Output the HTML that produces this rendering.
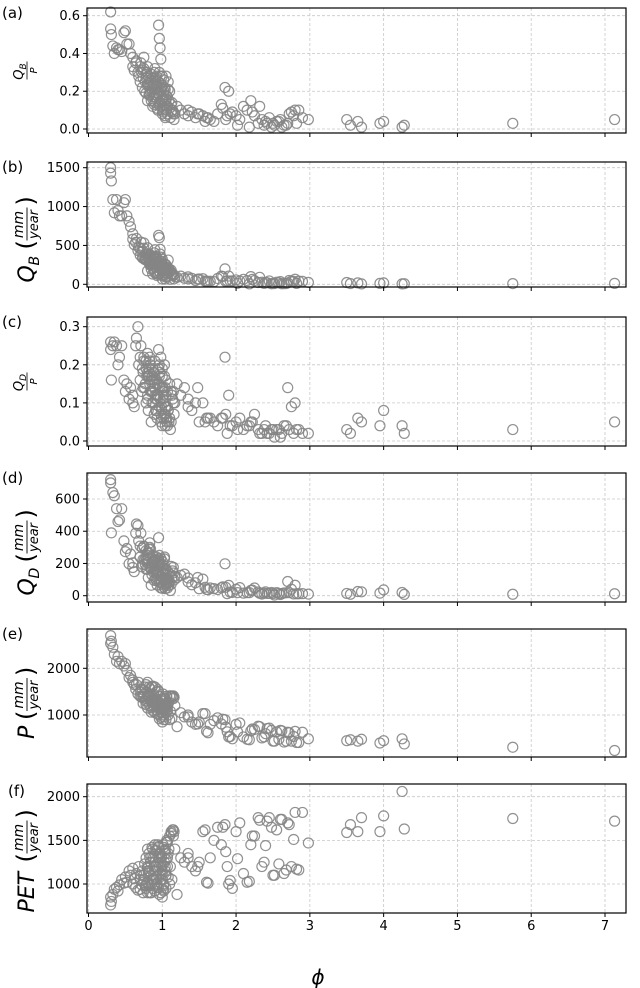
<!DOCTYPE html>
<html><head><meta charset="utf-8"><style>
html,body{margin:0;padding:0;background:#fff}
svg{display:block;font-family:"DejaVu Sans","Liberation Sans",sans-serif}
</style></head><body>
<svg id="chart" width="640" height="988" viewBox="0 0 640 988" xmlns="http://www.w3.org/2000/svg"></svg>
<script>
const phi=[0.30,0.30,0.31,0.33,0.35,0.38,0.40,0.42,0.45,0.48,
0.50,0.52,0.55,0.57,0.60,0.60,0.62,0.64,0.65,0.67,
0.68,0.70,0.70,0.72,0.73,0.74,0.75,0.76,0.77,0.78,
0.79,0.80,0.80,0.81,0.82,0.83,0.84,0.85,0.86,0.87,
0.88,0.88,0.89,0.90,0.90,0.91,0.92,0.93,0.94,0.95,
0.95,0.96,0.97,0.98,0.98,0.99,1.00,1.00,1.01,1.02,
1.03,1.04,1.05,1.05,1.06,1.07,1.08,1.10,1.12,1.14,
1.15,1.17,1.20,1.25,1.30,1.35,1.40,1.45,1.50,1.55,
1.60,1.65,1.70,1.75,1.80,1.85,1.88,1.90,1.95,2.00,
2.05,2.10,2.15,2.20,2.25,2.30,2.35,2.40,2.45,2.50,
2.55,2.60,2.65,2.70,2.72,2.75,2.80,2.85,2.90,2.98,
3.50,3.55,3.65,3.70,3.95,4.00,4.25,4.28,5.75,7.13,
0.71,0.74,0.78,0.80,0.83,0.85,0.87,0.89,0.91,0.93,
0.94,0.96,0.97,0.99,1.00,1.01,1.02,1.03,1.04,1.05,
1.06,1.07,1.08,1.09,1.10,1.11,1.12,1.13,1.15,1.16,
0.75,0.82,0.86,0.90,0.92,0.95,0.97,1.00,1.02,1.04,
1.58,1.62,1.82,1.86,1.92,2.02,2.18,2.22,2.32,2.38,
2.42,2.48,2.52,2.58,2.62,2.68,2.78,2.82,1.35,1.48,
0.78,0.81,0.84,0.87,0.90,0.93,0.96,0.99,1.02,1.05,
0.80,0.83,0.86,0.89,0.92,0.95,0.98,1.01,1.04,1.07];
const qbRatio=[0.62,0.53,0.50,0.44,0.40,0.43,0.42,0.42,0.41,0.51,
0.52,0.45,0.45,0.40,0.33,0.38,0.31,0.35,0.36,0.30,
0.28,0.33,0.25,0.30,0.22,0.27,0.32,0.20,0.25,0.19,
0.30,0.23,0.15,0.28,0.18,0.22,0.26,0.15,0.20,0.12,
0.24,0.17,0.30,0.21,0.14,0.26,0.18,0.22,0.10,0.25,
0.55,0.48,0.43,0.37,0.20,0.15,0.08,0.28,0.12,0.18,
0.22,0.07,0.14,0.28,0.10,0.17,0.25,0.20,0.13,0.10,
0.09,0.08,0.12,0.10,0.08,0.07,0.09,0.06,0.08,0.07,
0.06,0.05,0.04,0.08,0.13,0.22,0.07,0.20,0.09,0.07,
0.05,0.12,0.10,0.15,0.07,0.03,0.05,0.04,0.06,0.03,
0.04,0.05,0.02,0.03,0.08,0.09,0.10,0.10,0.06,0.05,
0.05,0.02,0.04,0.01,0.03,0.04,0.01,0.02,0.03,0.05,
0.35,0.31,0.27,0.24,0.19,0.29,0.16,0.23,0.27,0.11,
0.19,0.30,0.12,0.22,0.16,0.09,0.20,0.13,0.06,0.18,
0.12,0.08,0.21,0.15,0.11,0.06,0.09,0.14,0.08,0.05,
0.38,0.27,0.21,0.32,0.24,0.13,0.28,0.23,0.26,0.15,
0.04,0.06,0.11,0.05,0.08,0.02,0.01,0.09,0.12,0.02,
0.03,0.01,0.02,0.04,0.01,0.02,0.07,0.03,0.10,0.08,
0.29,0.24,0.20,0.27,0.17,0.23,0.14,0.21,0.11,0.16,
0.33,0.18,0.25,0.13,0.28,0.19,0.24,0.10,0.21,0.12];
const qbFlow=[1500,1430,1330,1090,920,1090,950,880,880,1050,
1090,880,810,740,580,650,510,540,590,435,
476,462,375,414,341,338,464,320,325,313,
390,299,173,392,288,264,377,195,320,132,
348,204,405,336,147,325,270,242,130,288,
630,600,450,350,210,195,68,322,174,180,
264,95,147,252,140,187,312,180,182,140,
122,96,90,105,77,70,77,48,68,72,
39,40,35,75,105,198,45,106,44,56,
42,64,48,99,48,23,26,24,43,13,
26,34,8,19,50,40,65,41,38,25,
23,9,18,5,12,18,5,8,9,12,
543,428,329,355,296,307,259,271,356,113,
293,276,138,293,168,109,192,174,67,220,
168,97,210,192,155,65,127,130,113,69,
532,378,244,445,281,131,389,258,234,173,
41,37,100,37,43,13,5,63,90,11,
21,7,9,19,7,9,38,12,96,65,
390,330,260,350,220,280,170,250,130,190,
470,250,330,170,360,230,300,120,250,140];
const qdRatio=[0.26,0.24,0.16,0.25,0.26,0.25,0.20,0.22,0.25,0.16,
0.13,0.15,0.11,0.14,0.10,0.12,0.09,0.25,0.27,0.30,
0.20,0.22,0.16,0.13,0.19,0.18,0.21,0.14,0.15,0.10,
0.17,0.12,0.23,0.08,0.18,0.15,0.20,0.05,0.13,0.16,
0.10,0.18,0.07,0.14,0.21,0.11,0.16,0.06,0.12,0.19,
0.24,0.20,0.14,0.05,0.22,0.09,0.17,0.04,0.13,0.10,
0.20,0.07,0.16,0.12,0.05,0.09,0.08,0.15,0.13,0.11,
0.13,0.10,0.15,0.12,0.14,0.11,0.08,0.10,0.05,0.10,
0.06,0.06,0.05,0.04,0.06,0.22,0.02,0.12,0.04,0.05,
0.06,0.03,0.04,0.05,0.07,0.03,0.02,0.04,0.02,0.03,
0.03,0.01,0.04,0.14,0.03,0.09,0.10,0.03,0.02,0.02,
0.03,0.02,0.06,0.05,0.04,0.08,0.04,0.02,0.03,0.05,
0.25,0.14,0.19,0.11,0.21,0.16,0.13,0.18,0.08,0.15,
0.12,0.09,0.18,0.06,0.14,0.11,0.07,0.17,0.04,0.09,
0.06,0.04,0.08,0.05,0.06,0.03,0.05,0.12,0.10,0.07,
0.22,0.19,0.17,0.12,0.08,0.15,0.11,0.19,0.06,0.14,
0.05,0.06,0.06,0.07,0.04,0.03,0.04,0.05,0.02,0.03,
0.02,0.03,0.01,0.03,0.02,0.04,0.02,0.03,0.09,0.14,
0.21,0.17,0.13,0.19,0.15,0.11,0.17,0.08,0.12,0.06,
0.18,0.22,0.10,0.16,0.12,0.19,0.07,0.14,0.09,0.13];
const qdFlow=[700,720,390,640,620,540,460,470,540,340,
273,293,198,259,175,204,149,388,445,435,
340,308,240,179,295,225,305,224,195,165,
221,204,265,112,288,180,290,65,208,176,
145,216,95,224,220,138,240,66,156,219,
360,250,196,48,231,117,145,46,189,100,
240,95,168,108,70,99,100,135,182,154,
176,120,113,126,134,110,68,80,43,103,
39,48,44,38,49,198,13,64,20,40,
50,16,19,33,48,23,10,24,14,13,
19,7,17,88,19,40,65,12,13,10,
14,9,26,24,16,36,20,8,9,12,
388,193,232,163,328,170,211,212,106,155,
185,83,207,80,147,133,67,228,44,110,
84,48,80,64,85,32,71,112,141,97,
308,266,197,167,94,152,153,213,54,161,
52,37,55,52,22,19,19,35,15,16,
14,20,4,14,13,18,11,12,86,113,
280,230,170,250,190,140,200,95,140,70,
250,300,130,210,150,230,85,165,105,150];
const precip=[2530,2700,2580,2450,2300,2150,2250,2100,2150,2050,
2100,1950,1800,1850,1750,1700,1650,1550,1650,1450,
1700,1400,1500,1380,1550,1250,1450,1600,1300,1650,
1300,1700,1150,1400,1600,1200,1450,1300,1600,1100,
1450,1200,1350,1600,1050,1250,1500,1100,1300,1150,
1500,1250,1400,950,1050,1300,850,1150,1450,1000,
1200,1350,1050,900,1400,1100,1250,900,1400,1400,
1350,1200,750,1050,960,1000,850,800,850,1030,
650,800,880,940,810,900,640,530,490,800,
830,530,480,660,690,760,510,600,720,440,
640,670,420,630,620,440,650,410,630,490,
450,470,440,480,400,450,490,380,310,240,
1550,1380,1220,1480,1560,1060,1620,1180,1320,1030,
1540,920,1150,1330,1050,1210,960,1340,1110,1220,
1400,1210,1000,1280,1410,1080,1410,930,1410,1380,
1400,1400,1160,1390,1170,1010,1390,1120,900,1150,
1030,620,910,740,540,640,470,700,750,530,
710,670,440,480,660,440,540,410,960,810,
1350,1380,1300,1300,1270,1250,1200,1180,1150,1160,
1420,1370,1330,1290,1260,1220,1210,1170,1190,1170];
const pet=[760,850,800,880,940,960,920,990,1050,1010,
1080,1020,1150,1100,1180,1000,1060,960,1120,930,
1200,940,1050,990,1150,900,1100,1230,980,1300,
1020,1400,900,1150,1350,980,1250,1100,1420,950,
1300,1050,1200,1450,920,1150,1380,1000,1250,1100,
1420,1200,1350,900,1050,1300,850,1150,1450,1000,
1250,1400,1100,950,1500,1200,1350,1000,1600,1620,
1550,1400,880,1300,1250,1350,1200,1150,1250,1600,
1020,1300,1500,1650,1450,1680,1200,1000,950,1600,
1700,1120,1020,1450,1550,1760,1200,1440,1760,1100,
1620,1740,1120,1700,1680,1200,1820,1160,1820,1470,
1590,1680,1600,1760,1600,1780,2060,1630,1750,1720,
1100,1020,950,1180,1300,900,1400,1050,1200,960,
1450,880,1120,1320,1050,1220,980,1380,1150,1280,
1480,1300,1080,1400,1550,1200,1580,1050,1620,1600,
1050,1150,1000,1250,1080,960,1350,1120,920,1200,
1620,1010,1650,1370,1040,1290,1030,1550,1730,1250,
1720,1650,1100,1230,1740,1160,1510,1170,1300,1200,
980,1120,1250,1060,1380,1000,1300,1200,1420,1100,
1200,900,1320,1150,1050,1430,1250,940,1350,1480];
const xTicks=[0,1,2,3,4,5,6,7];
const ticksA=[0.0,0.2,0.4,0.6], labelsA=["0.0","0.2","0.4","0.6"];
const ticksB=[0,500,1000,1500], labelsB=["0","500","1000","1500"];
const ticksC=[0.0,0.1,0.2,0.3], labelsC=["0.0","0.1","0.2","0.3"];
const ticksD=[0,200,400,600], labelsD=["0","200","400","600"];
const ticksE=[1000,2000], labelsE=["1000","2000"];
const ticksF=[1000,1500,2000], labelsF=["1000","1500","2000"];

const NS="http://www.w3.org/2000/svg";
const svg=document.getElementById('chart');
const L=87,R=626;
function xScale(v){return 88.5+(605-88.5)*v/7;}
function mk(tag,attrs,parent){const e=document.createElementNS(NS,tag);for(const k in attrs)e.setAttribute(k,attrs[k]);(parent||svg).appendChild(e);return e;}
const panels=[
 {id:'a',top:8,bot:133,v0:0,p0:129,v1:0.6,p1:15.7,ticks:ticksA,labels:labelsA,data:qbRatio,lab:'frac',sub:'B'},
 {id:'b',top:162,bot:287,v0:0,p0:284.3,v1:1500,p1:167.7,ticks:ticksB,labels:labelsB,data:qbFlow,lab:'flow',sub:'B'},
 {id:'c',top:317,bot:446,v0:0,p0:441,v1:0.3,p1:326.7,ticks:ticksC,labels:labelsC,data:qdRatio,lab:'frac',sub:'D'},
 {id:'d',top:473,bot:602,v0:0,p0:595.7,v1:600,p1:499,ticks:ticksD,labels:labelsD,data:qdFlow,lab:'flow',sub:'D'},
 {id:'e',top:629,bot:757,v0:1000,p0:715,v1:2000,p1:668.3,ticks:ticksE,labels:labelsE,data:precip,lab:'P'},
 {id:'f',top:784,bot:913,v0:1000,p0:884,v1:2000,p1:796.7,ticks:ticksF,labels:labelsF,data:pet,lab:'PET'}
];
panels.forEach((p,pi)=>{
  const g=mk('g',{});
  
  
  const yS=v=>p.p0+(p.p1-p.p0)*(v-p.v0)/(p.v1-p.v0);
  xTicks.forEach(t=>{const l=mk('line',{x1:xScale(t),x2:xScale(t),y1:p.top,y2:p.bot,stroke:'#c8c8c8','stroke-width':0.8,'stroke-dasharray':'3,2'},g);
    });
  p.ticks.forEach((t,i)=>{const y=yS(t);
    const l=mk('line',{x1:L,x2:R,y1:y,y2:y,stroke:'#c8c8c8','stroke-width':0.8,'stroke-dasharray':'3,2'},g);
    
    const tk=mk('line',{x1:L-4,x2:L,y1:y,y2:y,stroke:'#000','stroke-width':1},g);
    
    const tx=mk('text',{x:L-7,y:y+4.5,'text-anchor':'end','font-size':13,fill:'#000'},g);
    tx.textContent=p.labels[i];
    
  });
  for(let i=0;i<phi.length;i++){
    const c=mk('circle',{cx:xScale(phi[i]),cy:yS(p.data[i]),r:5,fill:'none',stroke:'#858585','stroke-width':1.2,'stroke-opacity':0.9},g);
    
    
  }
  const fr=mk('rect',{x:L,y:p.top,width:R-L,height:p.bot-p.top,fill:'none',stroke:'#000','stroke-width':1.2},g);
  
  xTicks.forEach(t=>{const l=mk('line',{x1:xScale(t),x2:xScale(t),y1:p.bot,y2:p.bot+4,stroke:'#000','stroke-width':1},g);
    
    if(pi===5){const tx=mk('text',{x:xScale(t),y:p.bot+17,'text-anchor':'middle','font-size':13},g);tx.textContent=String(t);
      }
  });
  const lx=(p.id==='f')?8:2, ly=(p.id==='f')?p.top+12:p.top+10;
  const pl=mk('text',{x:lx,y:ly,'font-size':15},g);pl.textContent='('+p.id+')';
  
  const cy=(p.top+p.bot)/2;
  if(p.lab==='frac'){
    const yl=mk('g',{transform:`translate(27,${cy}) rotate(-90)`},g);
    
    const t1=mk('text',{x:-1,y:-4,'text-anchor':'middle','font-size':13,'font-style':'italic'},yl);
    t1.innerHTML='Q<tspan font-size="9" dy="3">'+p.sub+'</tspan>';
    mk('line',{x1:-9,x2:9,y1:0,y2:0,stroke:'#000','stroke-width':0.8},yl);
    const t2=mk('text',{x:0,y:10,'text-anchor':'middle','font-size':10,'font-style':'italic'},yl);t2.textContent='P';
  } else {
    const yl=mk('g',{transform:`translate(26,${cy}) rotate(-90)`},g);
    
    let main,w0;
    if(p.lab==='flow'){main='Q';w0=-58;}else if(p.lab==='P'){main='P';w0=-46;}else{main='PET';w0=-64;}
    const t=mk('text',{x:w0,y:8,'font-size':22,'font-style':'italic'},yl);
    t.textContent=main;
    let x=w0+(main==='PET'?46:(main==='Q'?17:15));
    if(p.lab==='flow'){const s=mk('text',{x:x,y:13,'font-size':14,'font-style':'italic'},yl);s.textContent=p.sub;x+=12;}
    x+=4;
    const o=mk('text',{x:x,y:8,'font-size':24},yl);o.textContent='(';x+=9;
    const m=mk('text',{x:x+16,y:-3,'text-anchor':'middle','font-size':14,'font-style':'italic'},yl);m.textContent='mm';
    mk('line',{x1:x,x2:x+33,y1:1,y2:1,stroke:'#000','stroke-width':0.9},yl);
    const yr=mk('text',{x:x+16,y:12,'text-anchor':'middle','font-size':13,'font-style':'italic'},yl);yr.textContent='year';
    x+=35;
    const c2=mk('text',{x:x,y:8,'font-size':24},yl);c2.textContent=')';
  }
});
const xl=mk('text',{x:318,y:984,'text-anchor':'middle','font-size':20,'font-style':'italic'});
xl.textContent='ϕ';


</script>
</body></html>
